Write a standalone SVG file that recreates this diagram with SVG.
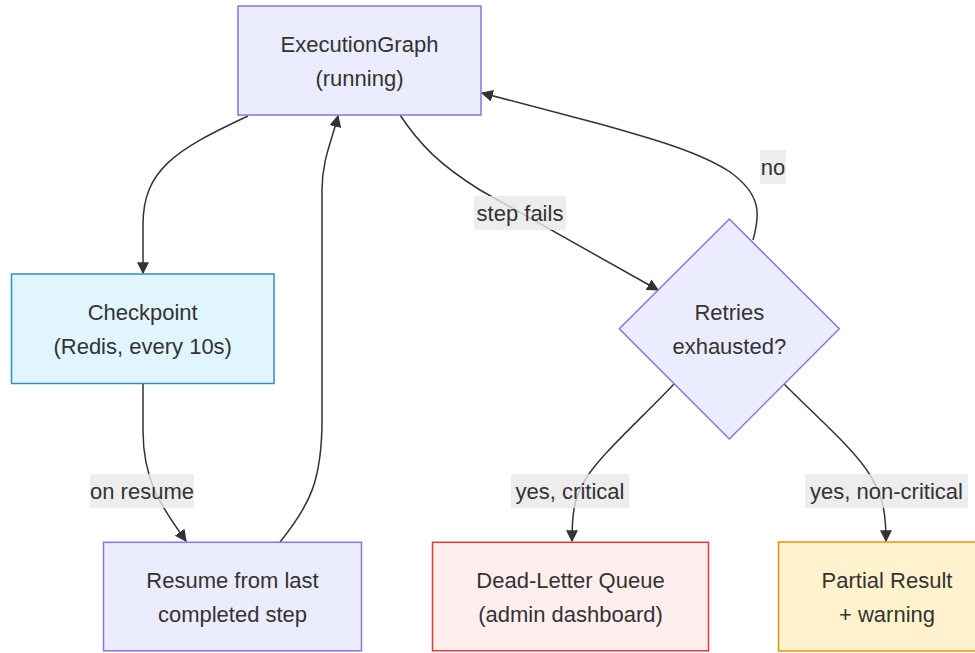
<svg xmlns="http://www.w3.org/2000/svg" width="975" height="653" viewBox="0 0 975 653">
<style>
text{font-family:"Liberation Sans",Arial,sans-serif;font-size:22px;fill:#333;text-anchor:middle}
.edge{fill:none;stroke:#333;stroke-width:1.5}
.lbl{fill:#e8e8e8;opacity:0.8}
.def{fill:#ececff;stroke:#9370db;stroke-width:1.5}
</style>
<defs>
<marker id="arr" viewBox="0 0 10 10" refX="9" refY="5" markerUnits="userSpaceOnUse" markerWidth="12" markerHeight="12" orient="auto">
<path d="M0,0 L10,5 L0,10 z" fill="#333"/>
</marker>
</defs>
<rect width="975" height="653" fill="#fff"/>
<g id="connectors">
<path class="edge" marker-end="url(#arr)" d="M248,116 C175,150 143,170 143,225 L143,273"/>
<path class="edge" marker-end="url(#arr)" d="M400,115 C420,145 440,165 480,190 L658,290"/>
<path class="edge" marker-end="url(#arr)" d="M753,240 C760,215 762,195 730,172 C700,152 650,138 600,124 L482,93"/>
<path class="edge" marker-end="url(#arr)" d="M280,542 C310,505 322,480 322,420 L322,190 C322,160 332,140 338,116"/>
<path class="edge" marker-end="url(#arr)" d="M143,384 L143,430 C143,480 160,505 186,541"/>
<path class="edge" marker-end="url(#arr)" d="M674,384 C640,420 600,455 585,480 C575,497 572,510 572,541"/>
<path class="edge" marker-end="url(#arr)" d="M784,384 C820,420 855,450 870,475 C882,495 886,510 886,541"/>
<rect class="lbl" x="474" y="196" width="92" height="34"/>
<text x="520" y="221">step fails</text>
<rect class="lbl" x="760" y="150" width="26" height="34"/>
<text x="773" y="175">no</text>
<rect class="lbl" x="90" y="474" width="104" height="34"/>
<text x="142" y="499">on resume</text>
<rect class="lbl" x="511" y="474" width="118" height="34"/>
<text x="570" y="499">yes, critical</text>
<rect class="lbl" x="805" y="474" width="163" height="34"/>
<text x="886.5" y="499">yes, non-critical</text>
</g>
<g id="ExecutionGraph">
<rect class="def" x="238" y="6" width="243" height="109"/>
<text x="359.5" y="51.5">ExecutionGraph</text>
<text x="359.5" y="85.5">(running)</text>
</g>
<g id="Checkpoint">
<rect x="11.5" y="274" width="262.5" height="109.5" fill="#e1f5fe" stroke="#2b8fc8" stroke-width="1.5"/>
<text x="142.7" y="319.5">Checkpoint</text>
<text x="142.7" y="353.5">(Redis, every 10s)</text>
</g>
<g id="Retries">
<polygon class="def" points="729.3,219 839.3,328.7 729.3,439 619.3,328.7"/>
<text x="729.3" y="319.5">Retries</text>
<text x="729.3" y="353.5">exhausted?</text>
</g>
<g id="Resume">
<rect class="def" x="103.5" y="542.3" width="258" height="108.5"/>
<text x="232.5" y="587.5">Resume from last</text>
<text x="232.5" y="621.5">completed step</text>
</g>
<g id="DeadLetter">
<rect x="432.5" y="542.3" width="276" height="108.5" fill="#ffeeee" stroke="#e53935" stroke-width="1.5"/>
<text x="570.5" y="587.5">Dead-Letter Queue</text>
<text x="570.5" y="621.5">(admin dashboard)</text>
</g>
<g id="Partial">
<rect x="778.5" y="542" width="217" height="109" fill="#fff2cc" stroke="#e69500" stroke-width="1.5"/>
<text x="887" y="587.5">Partial Result</text>
<text x="887" y="621.5">+ warning</text>
</g>
</svg>
